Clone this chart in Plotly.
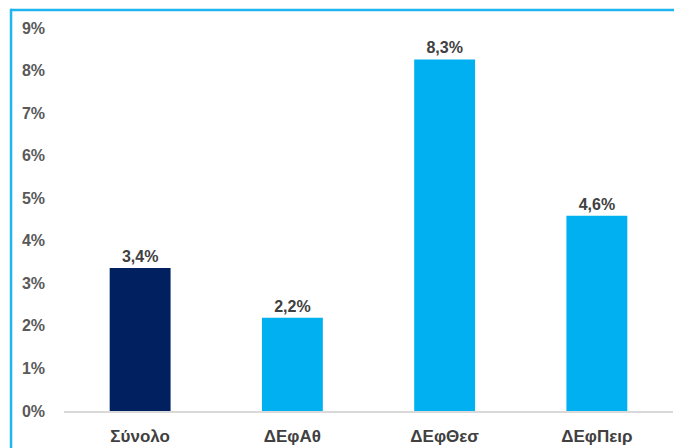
import plotly.graph_objects as go

categories = ["Σύνολο", "ΔΕφΑθ", "ΔΕφΘεσ", "ΔΕφΠειρ"]
values = [3.36, 2.19, 8.26, 4.59]
labels = ["3,4%", "2,2%", "8,3%", "4,6%"]
colors = ["#002060", "#00B0F0", "#00B0F0", "#00B0F0"]
tick_vals = list(range(0, 10))
tick_text = [f"{v}%" for v in tick_vals]

FONT = "Liberation Sans"

fig = go.Figure(go.Bar(
    x=categories, y=values, marker_color=colors, marker_line_width=0,
    text=labels, textposition="outside", cliponaxis=False,
    textfont=dict(family=FONT, size=16, color="#404040", weight="bold"),
))

fig.update_layout(
    width=674, height=440,
    margin=dict(l=56, r=9, t=20, b=37),
    paper_bgcolor="white", plot_bgcolor="white",
    bargap=0.6, showlegend=False,
    font=dict(family=FONT, color="#595959"),
    shapes=[
        dict(type="line", xref="paper", yref="paper", x0=-0.087, x1=1.03, y0=1.047, y1=1.047,
             line=dict(color="#1FB5EE", width=2.5)),
        dict(type="line", xref="paper", yref="paper", x0=-0.087, x1=-0.087, y0=1.05, y1=-0.12,
             line=dict(color="#1FB5EE", width=2.5)),
    ],
)
fig.update_yaxes(range=[0, 9], tickvals=tick_vals, ticktext=tick_text, showgrid=False,
                 zeroline=False, showline=False, ticks="", automargin=False,
                 tickfont=dict(family=FONT, size=16, color="#595959", weight="bold"),
                 ticklabelstandoff=18)
fig.update_xaxes(showline=True, linecolor="#D9D9D9", linewidth=1.5, ticks="", automargin=False,
                 tickfont=dict(family=FONT, size=17, color="#404040", weight="bold"),
                 ticklabelstandoff=9)

fig.write_html("out.html")
